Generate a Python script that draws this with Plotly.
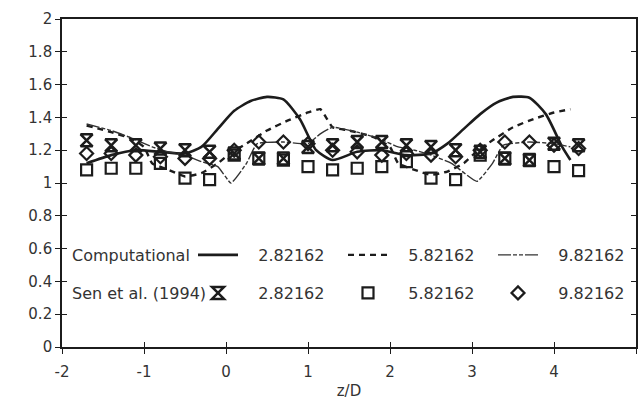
import plotly.graph_objects as go

# ---------------- data ----------------
# Sen et al. (1994) measurement positions, z/D
exp_x = [-1.7, -1.4, -1.1, -0.8, -0.5, -0.2, 0.1, 0.4, 0.7, 1.0, 1.3,
         1.6, 1.9, 2.2, 2.5, 2.8, 3.1, 3.4, 3.7, 4.0, 4.3]
exp_282 = [1.26, 1.23, 1.23, 1.21, 1.20, 1.19, 1.18, 1.15, 1.15, 1.22, 1.23,
           1.25, 1.25, 1.23, 1.22, 1.20, 1.19, 1.15, 1.14, 1.24, 1.23]
exp_582 = [1.08, 1.09, 1.09, 1.12, 1.03, 1.02, 1.17, 1.15, 1.14, 1.10, 1.08,
           1.09, 1.10, 1.13, 1.03, 1.02, 1.17, 1.15, 1.14, 1.10, 1.075]
exp_982 = [1.18, 1.18, 1.17, 1.16, 1.15, 1.15, 1.20, 1.25, 1.25, 1.24, 1.20,
           1.19, 1.17, 1.18, 1.17, 1.16, 1.20, 1.25, 1.25, 1.23, 1.21]

# Computational curves
comp282_x = [-1.7, -1.4, -1.1, -0.8, -0.5, -0.3, -0.1, 0.1, 0.3, 0.5, 0.7,
             0.9, 1.1, 1.3, 1.6, 1.9, 2.2, 2.5, 2.7, 2.9, 3.1, 3.3, 3.5,
             3.7, 3.9, 4.1, 4.2]
comp282_y = [1.12, 1.17, 1.20, 1.19, 1.18, 1.22, 1.33, 1.44, 1.50, 1.525, 1.51,
             1.39, 1.20, 1.14, 1.19, 1.20, 1.17, 1.18, 1.24, 1.33, 1.42, 1.49, 1.525,
             1.52, 1.42, 1.22, 1.14]

comp582_x = [-1.7, -1.4, -1.15, -1.0, -0.9, -0.7, -0.5, -0.3, -0.1, 0.05, 0.25,
             0.5, 0.75, 1.0, 1.15, 1.22, 1.3, 1.5, 1.8, 2.0, 2.1, 2.3, 2.5,
             2.7, 2.9, 3.05, 3.25, 3.5, 3.75, 4.0, 4.2]
comp582_y = [1.35, 1.31, 1.27, 1.22, 1.12, 1.08, 1.04, 1.06, 1.12, 1.18, 1.24,
             1.32, 1.38, 1.43, 1.45, 1.40, 1.34, 1.32, 1.28, 1.22, 1.12, 1.08, 1.05,
             1.07, 1.12, 1.19, 1.26, 1.34, 1.39, 1.43, 1.45]

comp982_x = [-1.7, -1.4, -1.13, -0.9, -0.7, -0.5, -0.3, -0.1, 0.06, 0.25, 0.38,
             0.7, 1.0, 1.15, 1.3, 1.6, 1.87, 2.1, 2.3, 2.5, 2.75, 3.06, 3.25,
             3.38, 3.7, 4.0, 4.2]
comp982_y = [1.36, 1.32, 1.27, 1.22, 1.19, 1.17, 1.13, 1.10, 1.00, 1.12, 1.24,
             1.25, 1.24, 1.30, 1.34, 1.31, 1.27, 1.22, 1.20, 1.17, 1.12, 1.01, 1.12,
             1.23, 1.25, 1.24, 1.22]

series_names = ["2.82162", "5.82162", "9.82162"]
row_labels = ["Computational", "Sen et al. (1994)"]

x_tickvals = [-2, -1, 0, 1, 2, 3, 4, 5]
x_ticktext = ["-2", "-1", "0", "1", "2", "3", "4", "5"]
y_tickvals = [0, 0.2, 0.4, 0.6, 0.8, 1, 1.2, 1.4, 1.6, 1.8, 2]
y_ticktext = ["0", "0.2", "0.4", "0.6", "0.8", "1", "1.2", "1.4", "1.6", "1.8", "2"]

# ---------------- styling ----------------
INK = "#1c1c1c"
TXT = "#333333"
FONT = "DejaVu Sans"
PAD = "\u00a0\u00a0\u00a0"

fig = go.Figure()

fig.add_trace(go.Scatter(x=comp282_x, y=comp282_y, mode="lines", name=PAD + series_names[0],
                         line=dict(color=INK, width=2.6, shape="spline", smoothing=0.6),
                         legend="legend"))
fig.add_trace(go.Scatter(x=comp582_x, y=comp582_y, mode="lines", name=PAD + series_names[1],
                         line=dict(color=INK, width=2.4, dash="6px,5px", shape="spline", smoothing=0.4),
                         legend="legend"))
fig.add_trace(go.Scatter(x=comp982_x, y=comp982_y, mode="lines", name=PAD + series_names[2],
                         line=dict(color="#333333", width=1.4, dash="13px,2px,4px,2px,4px,2px",
                                   shape="spline", smoothing=0.4),
                         legend="legend"))

fig.add_trace(go.Scatter(x=exp_x, y=exp_582, mode="markers", name=PAD + series_names[1],
                         marker=dict(symbol="square-open", size=11, color=INK, line=dict(width=2.2)),
                         legend="legend2"))
fig.add_trace(go.Scatter(x=exp_x, y=exp_982, mode="markers", name=PAD + series_names[2],
                         marker=dict(symbol="diamond-open", size=10, color=INK, line=dict(width=2.2)),
                         legend="legend2"))
fig.add_trace(go.Scatter(x=exp_x, y=exp_282, mode="markers", name=PAD + series_names[0],
                         marker=dict(symbol="hourglass-open", size=12, color=INK, line=dict(width=2.5)),
                         legend="legend2", legendrank=1))

L, R, T, B = 62, 4, 19, 58
W, H = 640, 405
pw, ph = W - L - R, H - T - B

def px_x(p):
    return (p - L) / pw

def px_y(p):
    return (H - B - p) / ph

legend_common = dict(orientation="h", xanchor="left", yanchor="middle",
                     bgcolor="rgba(0,0,0,0)", borderwidth=0,
                     font=dict(family=FONT, size=16, color=TXT),
                     entrywidth=95, entrywidthmode="pixels", itemwidth=40,
                     traceorder="normal")

fig.update_layout(
    width=W, height=H,
    margin=dict(l=L, r=R, t=T, b=B, autoexpand=False),
    paper_bgcolor="white", plot_bgcolor="white",
    font=dict(family=FONT, size=15, color=TXT),
    showlegend=True,
    legend=dict(x=px_x(193), y=px_y(255), **legend_common),
    legend2=dict(x=px_x(193), y=px_y(293), **legend_common),
    xaxis=dict(range=[-2, 5], tickvals=x_tickvals, ticktext=x_ticktext,
               ticks="outside", ticklen=5, tickwidth=1.3, tickcolor=INK,
               showline=True, linecolor=INK, linewidth=1.6, mirror=True,
               showgrid=False, zeroline=False, ticklabelstandoff=5,
               tickfont=dict(family=FONT, size=15, color=TXT),
               title=dict(text="z/D", font=dict(family=FONT, size=15, color=TXT), standoff=6)),
    xaxis2=dict(range=[-2, 5], overlaying="x", anchor="y", side="bottom",
                tickvals=x_tickvals, ticks="inside", ticklen=5, tickwidth=1.3, tickcolor=INK,
                showticklabels=False, showline=False, showgrid=False, zeroline=False),
    yaxis=dict(range=[0, 2], tickvals=y_tickvals, ticktext=y_ticktext,
               ticks="outside", ticklen=5, tickwidth=1.3, tickcolor=INK,
               showline=True, linecolor=INK, linewidth=1.6, mirror=True,
               showgrid=False, zeroline=False,
               tickfont=dict(family=FONT, size=15, color=TXT)),
    yaxis2=dict(range=[0, 2], overlaying="y", anchor="x", side="left",
                tickvals=y_tickvals, ticks="inside", ticklen=5, tickwidth=1.3, tickcolor=INK,
                showticklabels=False, showline=False, showgrid=False, zeroline=False),
    yaxis3=dict(range=[0, 2], overlaying="y", anchor="x", side="right",
                tickvals=y_tickvals, ticks="inside", ticklen=5, tickwidth=1.3, tickcolor=INK,
                showticklabels=False, showline=False, showgrid=False, zeroline=False),
)

# invisible helper traces so the extra tick axes are drawn
fig.add_trace(go.Scatter(x=[None], y=[None], xaxis="x2", yaxis="y", showlegend=False, hoverinfo="skip"))
fig.add_trace(go.Scatter(x=[None], y=[None], xaxis="x", yaxis="y2", showlegend=False, hoverinfo="skip"))
fig.add_trace(go.Scatter(x=[None], y=[None], xaxis="x", yaxis="y3", showlegend=False, hoverinfo="skip"))

for i, lab in enumerate(row_labels):
    fig.add_annotation(text=lab, xref="paper", yref="paper",
                       x=px_x(70), y=px_y(255 if i == 0 else 293),
                       xanchor="left", yanchor="middle", showarrow=False,
                       font=dict(family=FONT, size=16, color=TXT))

fig.write_html("out.html")
